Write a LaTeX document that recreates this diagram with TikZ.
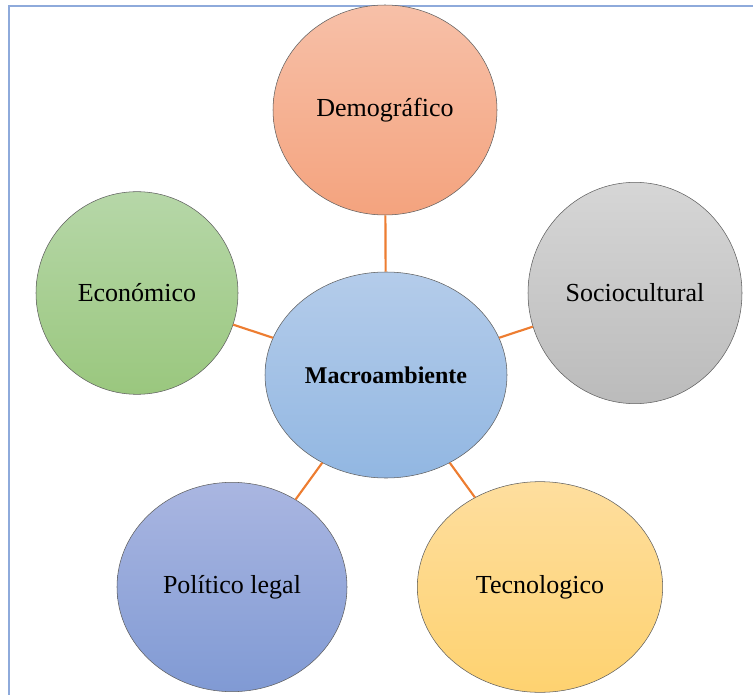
\documentclass[tikz,border=0pt]{standalone}
\usepackage{fontspec}
\setmainfont{Liberation Serif}
\usepackage{tikz}
\usetikzlibrary{positioning, shapes.geometric}
\definecolor{frameBlue}{RGB}{142, 170, 219}
\definecolor{linkOrange}{RGB}{237, 125, 49}
\definecolor{rimGray}{RGB}{95, 95, 95}
\definecolor{demoTop}{RGB}{247, 192, 168}
\definecolor{demoBot}{RGB}{244, 163, 126}
\definecolor{ecoTop}{RGB}{182, 215, 168}
\definecolor{ecoBot}{RGB}{154, 199, 126}
\definecolor{socTop}{RGB}{214, 214, 214}
\definecolor{socBot}{RGB}{187, 187, 187}
\definecolor{macTop}{RGB}{180, 204, 234}
\definecolor{macBot}{RGB}{146, 183, 226}
\definecolor{polTop}{RGB}{170, 182, 225}
\definecolor{polBot}{RGB}{128, 154, 212}
\definecolor{tecTop}{RGB}{254, 222, 158}
\definecolor{tecBot}{RGB}{254, 210, 112}

\begin{document}
\begin{tikzpicture}[
        x=0.75pt, y=-0.75pt,
        font=\fontsize{19.5}{22}\selectfont,
        factor/.style={
            ellipse, draw=rimGray, thin, inner sep=0pt, align=center
        },
        link/.style={draw=linkOrange, line width=1.6pt}
    ]

    \useasboundingbox (0,0) rectangle (753,695);

    % FRAME (only top and left edges are visible)
    \draw[frameBlue, line width=2.2pt] (9,695) -- (9,6) -- (753,6);

    % CENTRE NODE
    \node[factor, top color=macTop, bottom color=macBot,
          minimum width=181.5pt, minimum height=154.5pt,
          font=\fontsize{18}{20}\selectfont\bfseries] (macro) at (386,375) {Macroambiente};

    % SURROUNDING FACTORS
    \node[factor, top color=demoTop, bottom color=demoBot,
          minimum width=168pt, minimum height=157.5pt] (demo) at (385,110) {Demográfico};
    \node[factor, top color=ecoTop, bottom color=ecoBot,
          minimum width=151.5pt, minimum height=152pt] (eco) at (137,293) {Económico};
    \node[factor, top color=socTop, bottom color=socBot,
          minimum width=160.5pt, minimum height=166pt] (soc) at (635,293) {Sociocultural};
    \node[factor, top color=polTop, bottom color=polBot,
          minimum width=172.5pt, minimum height=157pt] (pol) at (232,587) {Político legal};
    \node[factor, top color=tecTop, bottom color=tecBot,
          minimum width=184pt, minimum height=158pt] (tec) at (540,587) {Tecnologico};

    % CONNECT CENTRE TO FACTORS
    \draw[link] (macro) -- (demo);
    \draw[link] (macro) -- (eco);
    \draw[link] (macro) -- (soc);
    \draw[link] (macro) -- (pol);
    \draw[link] (macro) -- (tec);

\end{tikzpicture}
\end{document}
